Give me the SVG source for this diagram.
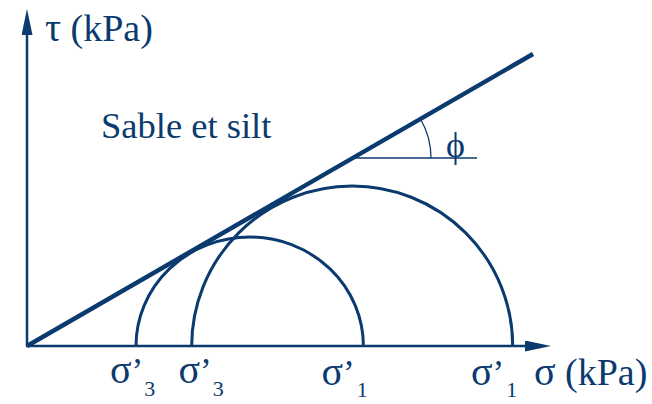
<svg xmlns="http://www.w3.org/2000/svg" width="652" height="404" viewBox="0 0 652 404" font-family="Liberation Serif, Times New Roman, serif">
<defs>
<marker id="arr" viewBox="0 0 26 11" refX="0" refY="5.5" markerWidth="26" markerHeight="11" markerUnits="userSpaceOnUse" orient="auto"><path d="M0,0 L26,5.5 L0,11 Z" fill="#0a3a6e"/></marker>
</defs>
<rect width="652" height="404" fill="#ffffff"/>
<g id="axes">
<line x1="27" y1="346" x2="27" y2="35" fill="none" stroke="#0a3a6e" stroke-width="2.5" marker-end="url(#arr)"/>
<line x1="26" y1="346" x2="525" y2="346" fill="none" stroke="#0a3a6e" stroke-width="2.5" marker-end="url(#arr)"/>
<text x="45" y="41" font-family="Liberation Serif, Times New Roman, serif" font-size="38" fill="#0a3a6e"><tspan font-size="40">&#964;</tspan> (kPa)</text>
<text x="534" y="385" font-family="Liberation Serif, Times New Roman, serif" font-size="38" fill="#0a3a6e"><tspan font-size="40">&#963;</tspan> (kPa)</text>
</g>
<g id="failure-envelope">
<line x1="27" y1="346" x2="533" y2="54" fill="none" stroke="#0a3a6e" stroke-width="4.5"/>
<line x1="353" y1="158" x2="477" y2="158" fill="none" stroke="#0a3a6e" stroke-width="1.3"/>
<path d="M420.5,119 A78,78 0 0 1 431,158" fill="none" stroke="#0a3a6e" stroke-width="1.3"/>
<text x="446" y="157" font-family="Liberation Serif, Times New Roman, serif" font-size="36" fill="#0a3a6e">&#981;</text>
<text x="101" y="138" font-family="Liberation Serif, Times New Roman, serif" font-size="36.5" fill="#0a3a6e">Sable et silt</text>
</g>
<g id="circle-small">
<path d="M136,346 A113.7,109 0 0 1 363.4,346" fill="none" stroke="#0a3a6e" stroke-width="3"/>
</g>
<g id="circle-large">
<path d="M191.7,346 A160.5,160 0 0 1 512.7,346" fill="none" stroke="#0a3a6e" stroke-width="3"/>
</g>
<g id="labels">
<text x="110" y="383" font-family="Liberation Serif, Times New Roman, serif" font-size="35" fill="#0a3a6e"><tspan font-size="40">&#963;</tspan>&#8217;<tspan font-size="22" dx="1" dy="13">3</tspan></text>
<text x="178.5" y="383" font-family="Liberation Serif, Times New Roman, serif" font-size="35" fill="#0a3a6e"><tspan font-size="40">&#963;</tspan>&#8217;<tspan font-size="22" dx="1" dy="13">3</tspan></text>
<text x="321.5" y="385" font-family="Liberation Serif, Times New Roman, serif" font-size="35" fill="#0a3a6e"><tspan font-size="40">&#963;</tspan>&#8217;<tspan font-size="22" dx="2" dy="12">1</tspan></text>
<text x="471" y="385" font-family="Liberation Serif, Times New Roman, serif" font-size="35" fill="#0a3a6e"><tspan font-size="40">&#963;</tspan>&#8217;<tspan font-size="22" dx="2" dy="12">1</tspan></text>
</g>
</svg>
